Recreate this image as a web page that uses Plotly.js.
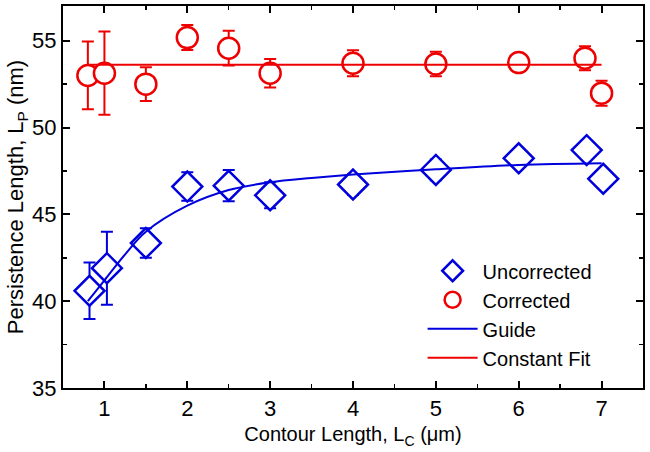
<!DOCTYPE html>
<html>
<head>
<meta charset="utf-8">
<script src="https://cdn.plot.ly/plotly-3.0.1.min.js"></script>
<style>html,body{margin:0;padding:0;background:#fff;}#chart{width:650px;height:452px;}</style>
</head>
<body>
<div id="chart"></div>
<script>
// Uncorrected (blue diamonds)
var uncX = [0.82, 1.03, 1.5, 2.0, 2.5, 3.0, 4.0, 5.0, 6.0, 6.82, 7.02];
var uncY = [40.6, 41.9, 43.35, 46.6, 46.65, 46.1, 46.72, 47.56, 48.23, 48.7, 47.05];
var uncErr = [1.63, 2.1, 0.85, 0.82, 0.9, 0.75, 0.6, 0.6, 0.5, 0.5, 0.5];
// Corrected (red circles)
var corX = [0.8, 1.0, 1.5, 2.0, 2.5, 3.0, 4.0, 5.0, 6.0, 6.8, 7.0];
var corY = [53.0, 53.13, 52.5, 55.18, 54.57, 53.13, 53.7, 53.66, 53.74, 53.99, 51.98];
var corErr = [1.95, 2.4, 0.97, 0.72, 1.0, 0.82, 0.75, 0.7, 0.45, 0.69, 0.72];
// Guide curve
var guideX = [0.8, 1.0, 1.25, 1.5, 2.0, 2.5, 3.0, 3.5, 4.0, 5.0, 6.0, 7.0];
var guideY = [40.0, 41.2, 42.7, 44.0, 45.5, 46.4, 46.85, 47.1, 47.3, 47.6, 47.85, 47.95];
// Constant fit
var fitX = [0.8, 7.0];
var fitY = [53.62, 53.62];
// Ticks
var xTicks = [1, 2, 3, 4, 5, 6, 7];
var yTicks = [35, 40, 45, 50, 55];

var BLUE = '#0000dd', RED = '#ee0000';
var FONT = 'Liberation Sans, Arial, sans-serif';

var traces = [
  {x: uncX, y: uncY, name: 'Uncorrected', mode: 'markers', type: 'scatter',
   marker: {symbol: 'diamond', size: 23, color: '#ffffff', line: {color: BLUE, width: 2.5}},
   error_y: {type: 'data', array: uncErr, visible: true, color: BLUE, thickness: 2, width: 6}},
  {x: corX, y: corY, name: 'Corrected', mode: 'markers', type: 'scatter',
   marker: {symbol: 'circle', size: 21, color: '#ffffff', line: {color: RED, width: 2.5}},
   error_y: {type: 'data', array: corErr, visible: true, color: RED, thickness: 2, width: 6}},
  {x: guideX, y: guideY, name: 'Guide', mode: 'lines', type: 'scatter',
   line: {color: BLUE, width: 2, shape: 'spline'}},
  {x: fitX, y: fitY, name: 'Constant Fit', mode: 'lines', type: 'scatter',
   line: {color: RED, width: 2}}
];

var axisCommon = {
  showline: true, linecolor: '#000', linewidth: 2, mirror: 'ticks',
  ticks: 'inside', ticklen: 7, tickwidth: 2, tickcolor: '#000',
  showgrid: false, zeroline: false,
  tickfont: {family: FONT, size: 22, color: '#000'}
};

var layout = {
  width: 650, height: 452,
  margin: {l: 63, r: 7, t: 6, b: 64},
  paper_bgcolor: '#fff', plot_bgcolor: '#fff',
  font: {family: FONT, size: 20, color: '#000'},
  xaxis: Object.assign({}, axisCommon, {
    range: [0.5, 7.5], tickvals: xTicks, ticktext: xTicks.map(String),
    minor: {dtick: 0.5, tick0: 0.5, ticks: 'inside', ticklen: 4, tickwidth: 1.5, tickcolor: '#000'},
    title: {text: 'Contour Length, L<sub>C</sub> (μm)', font: {family: FONT, size: 20}, standoff: 7}
  }),
  yaxis: Object.assign({}, axisCommon, {
    range: [35, 57], tickvals: yTicks, ticktext: yTicks.map(String),
    minor: {dtick: 2.5, tick0: 35, ticks: 'inside', ticklen: 4, tickwidth: 1.5, tickcolor: '#000'},
    title: {text: 'Persistence Length, L<sub>P</sub> (nm)', font: {family: FONT, size: 22}, standoff: 2}
  }),
  showlegend: true,
  legend: {x: 0.62, y: 0.358, xanchor: 'left', yanchor: 'top',
           bgcolor: 'rgba(0,0,0,0)', borderwidth: 0, itemwidth: 50,
           font: {family: FONT, size: 20, color: '#000'}}
};

Plotly.newPlot('chart', traces, layout, {displayModeBar: false, staticPlot: true});
</script>
</body>
</html>
